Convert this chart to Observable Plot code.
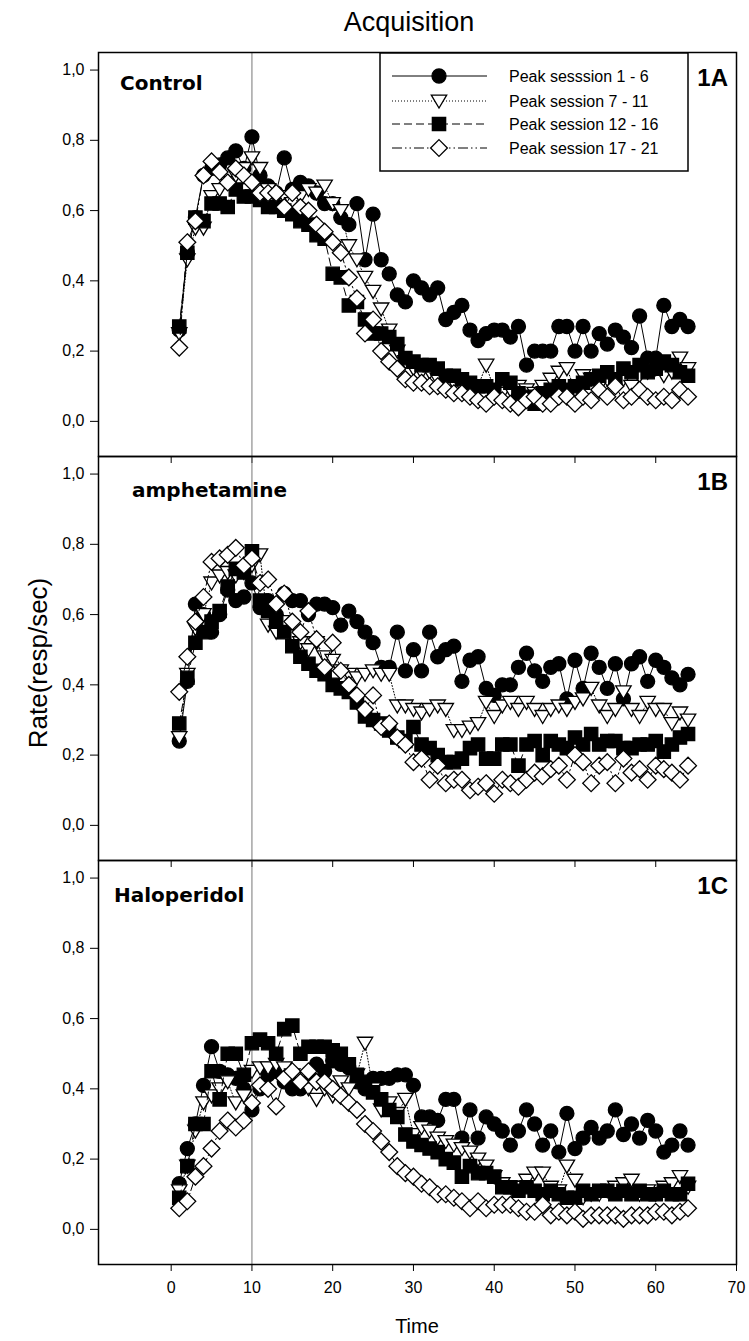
<!DOCTYPE html>
<html><head><meta charset="utf-8">
<script src="https://cdn.jsdelivr.net/npm/d3@7"></script>
<script src="https://cdn.jsdelivr.net/npm/@observablehq/plot@0.6"></script>
<style>
html,body{margin:0;padding:0;background:#fff;}
#fig{position:relative;width:749px;height:1341px;overflow:hidden;font-family:"Liberation Sans",Arial,sans-serif;background:#fff;}
#fig svg{position:absolute;left:0;}
</style></head><body><div id="fig"></div>
<script>
// ---------- data ----------
const time = [1,2,3,4,5,6,7,8,9,10,11,12,13,14,15,16,17,18,19,20,21,22,23,24,25,26,27,28,29,30,31,32,33,34,35,36,37,38,39,40,41,42,43,44,45,46,47,48,49,50,51,52,53,54,55,56,57,58,59,60,61,62,63,64];

const seriesNames = ["Peak sesssion 1 - 6","Peak session 7 - 11","Peak session 12 - 16","Peak session 17 - 21"];
const panelNames = ["Control","amphetamine","Haloperidol"];
const panelTags = ["1A","1B","1C"];
const xTicks = [0,10,20,30,40,50,60,70];
const yTicks = [0,0.2,0.4,0.6,0.8,1.0];
const refTime = 10;

// Control (1A)
const control1 = [0.26,0.48,0.58,0.70,0.72,0.73,0.75,0.77,0.72,0.81, 0.70,0.67,0.65,0.75,0.66,0.68,0.67,0.65,0.62,0.62, 0.58,0.56,0.62,0.46,0.59,0.46,0.42,0.36,0.34,0.40, 0.38,0.36,0.38,0.29,0.31,0.33,0.26,0.23,0.25,0.26, 0.26,0.24,0.27,0.16,0.20,0.20,0.20,0.27,0.27,0.20, 0.27,0.20,0.25,0.22,0.26,0.24,0.21,0.30,0.18,0.18, 0.33,0.27,0.29,0.27];
const control2 = [0.25,0.46,0.55,0.55,0.64,0.66,0.68,0.70,0.72,0.75, 0.72,0.66,0.64,0.64,0.62,0.64,0.66,0.65,0.67,0.62, 0.60,0.50,0.46,0.41,0.37,0.32,0.26,0.20,0.17,0.15, 0.14,0.14,0.12,0.12,0.11,0.10,0.10,0.10,0.16,0.09, 0.08,0.09,0.10,0.09,0.08,0.10,0.12,0.14,0.15,0.09, 0.13,0.12,0.10,0.12,0.11,0.12,0.10,0.13,0.14,0.15, 0.13,0.14,0.18,0.15];
const control3 = [0.27,0.48,0.58,0.57,0.62,0.62,0.61,0.66,0.64,0.64, 0.63,0.61,0.61,0.60,0.59,0.57,0.56,0.53,0.52,0.42, 0.41,0.33,0.34,0.29,0.25,0.25,0.24,0.22,0.18,0.17, 0.16,0.16,0.15,0.13,0.13,0.12,0.11,0.10,0.10,0.09, 0.12,0.11,0.08,0.07,0.05,0.08,0.09,0.10,0.09,0.10, 0.11,0.12,0.13,0.14,0.12,0.15,0.14,0.16,0.14,0.15, 0.17,0.16,0.14,0.13];
const control4 = [0.21,0.51,0.57,0.70,0.74,0.71,0.68,0.72,0.70,0.68, 0.65,0.65,0.65,0.61,0.65,0.61,0.60,0.56,0.54,0.51, 0.48,0.41,0.35,0.25,0.29,0.20,0.17,0.15,0.12,0.11, 0.11,0.10,0.10,0.09,0.08,0.08,0.07,0.06,0.05,0.07, 0.06,0.05,0.04,0.06,0.07,0.05,0.05,0.07,0.07,0.05, 0.07,0.06,0.09,0.07,0.10,0.06,0.07,0.09,0.07,0.06, 0.07,0.06,0.09,0.07];

// amphetamine (1B)
const amph1 = [0.24,0.41,0.63,0.60,0.55,0.60,0.67,0.64,0.65,0.69, 0.62,0.64,0.60,0.66,0.64,0.64,0.60,0.63,0.63,0.62, 0.57,0.61,0.58,0.55,0.52,0.45,0.45,0.55,0.44,0.50, 0.44,0.55,0.48,0.50,0.51,0.41,0.47,0.48,0.39,0.37, 0.40,0.40,0.45,0.49,0.44,0.41,0.45,0.46,0.36,0.47, 0.39,0.49,0.45,0.39,0.46,0.36,0.46,0.48,0.41,0.47, 0.45,0.42,0.40,0.43];
const amph2 = [0.25,0.43,0.56,0.60,0.69,0.71,0.72,0.71,0.72,0.74, 0.77,0.57,0.55,0.58,0.54,0.52,0.50,0.52,0.48,0.47, 0.44,0.43,0.42,0.43,0.44,0.43,0.43,0.34,0.34,0.33, 0.32,0.33,0.34,0.33,0.27,0.27,0.28,0.29,0.35,0.31, 0.34,0.35,0.33,0.35,0.33,0.31,0.33,0.34,0.33,0.35, 0.36,0.39,0.34,0.31,0.33,0.38,0.33,0.31,0.35,0.33, 0.33,0.29,0.32,0.30];
const amph3 = [0.29,0.42,0.52,0.55,0.58,0.61,0.68,0.73,0.72,0.78, 0.64,0.61,0.58,0.55,0.51,0.48,0.46,0.44,0.43,0.40, 0.39,0.38,0.35,0.31,0.30,0.29,0.27,0.25,0.24,0.28, 0.23,0.22,0.20,0.18,0.18,0.19,0.22,0.23,0.19,0.19, 0.23,0.23,0.17,0.23,0.24,0.20,0.24,0.23,0.22,0.25, 0.23,0.26,0.23,0.24,0.24,0.22,0.22,0.23,0.23,0.24, 0.21,0.23,0.25,0.26];
const amph4 = [0.38,0.48,0.58,0.65,0.75,0.76,0.77,0.79,0.74,0.76, 0.69,0.70,0.63,0.66,0.58,0.55,0.61,0.53,0.45,0.52, 0.44,0.40,0.37,0.33,0.37,0.28,0.29,0.25,0.23,0.18, 0.19,0.13,0.17,0.12,0.13,0.13,0.10,0.11,0.12,0.09, 0.13,0.12,0.11,0.13,0.15,0.14,0.16,0.17,0.13,0.20, 0.18,0.12,0.17,0.18,0.12,0.19,0.15,0.16,0.13,0.17, 0.16,0.15,0.13,0.17];

// Haloperidol (1C)
const halo1 = [0.13,0.23,0.30,0.41,0.52,0.45,0.44,0.43,0.40,0.34, 0.40,0.44,0.45,0.42,0.40,0.40,0.44,0.47,0.45,0.48, 0.47,0.46,0.42,0.40,0.43,0.43,0.43,0.44,0.44,0.41, 0.32,0.32,0.31,0.37,0.37,0.26,0.34,0.26,0.32,0.30, 0.28,0.24,0.28,0.34,0.30,0.24,0.28,0.22,0.33,0.23, 0.26,0.29,0.26,0.28,0.34,0.27,0.30,0.26,0.31,0.28, 0.22,0.24,0.28,0.24];
const halo2 = [0.11,0.18,0.28,0.36,0.38,0.40,0.42,0.36,0.38,0.45, 0.46,0.46,0.47,0.46,0.44,0.43,0.40,0.37,0.40,0.38, 0.42,0.40,0.44,0.53,0.40,0.34,0.36,0.33,0.37,0.27, 0.29,0.28,0.26,0.25,0.24,0.23,0.22,0.20,0.18,0.15, 0.13,0.12,0.12,0.14,0.16,0.16,0.12,0.11,0.18,0.14, 0.09,0.10,0.10,0.11,0.12,0.13,0.14,0.10,0.11,0.10, 0.12,0.13,0.15,0.12];
const halo3 = [0.09,0.18,0.30,0.30,0.45,0.37,0.50,0.50,0.44,0.53, 0.54,0.53,0.50,0.57,0.58,0.50,0.52,0.52,0.52,0.51, 0.50,0.47,0.44,0.42,0.39,0.37,0.34,0.32,0.27,0.25, 0.24,0.23,0.22,0.20,0.19,0.15,0.18,0.16,0.16,0.15, 0.12,0.12,0.11,0.12,0.11,0.10,0.11,0.10,0.09,0.09, 0.11,0.10,0.11,0.11,0.10,0.11,0.10,0.11,0.10,0.10, 0.11,0.10,0.10,0.13];
const halo4 = [0.06,0.08,0.15,0.18,0.23,0.28,0.31,0.29,0.31,0.36, 0.41,0.40,0.35,0.43,0.45,0.42,0.45,0.42,0.42,0.40, 0.38,0.36,0.34,0.30,0.28,0.25,0.22,0.18,0.16,0.15, 0.13,0.12,0.10,0.10,0.09,0.08,0.06,0.08,0.06,0.07, 0.07,0.07,0.06,0.05,0.05,0.07,0.04,0.05,0.04,0.05, 0.03,0.04,0.04,0.04,0.04,0.03,0.04,0.04,0.04,0.05, 0.05,0.04,0.05,0.06];

const panelSeries = [
  [control1, control2, control3, control4],
  [amph1, amph2, amph3, amph4],
  [halo1, halo2, halo3, halo4]
];

// ---------- symbols & styles ----------
const symCircle = {draw(c, size){const r=Math.sqrt(size/Math.PI); c.moveTo(r,0); c.arc(0,0,r,0,2*Math.PI); c.closePath();}};
const symTriDown = {draw(c, size){const r=Math.sqrt(size/Math.PI); c.moveTo(-r*1.1,-r*0.85); c.lineTo(r*1.1,-r*0.85); c.lineTo(0,r*1.0); c.closePath();}};
const symSquare = {draw(c, size){const r=Math.sqrt(size/Math.PI); const h=r*0.95; c.rect(-h,-h,2*h,2*h);}};
const symDiamond = {draw(c, size){const r=Math.sqrt(size/Math.PI); const h=r*1.2; c.moveTo(0,-h); c.lineTo(h,0); c.lineTo(0,h); c.lineTo(-h,0); c.closePath();}};
const styles = [
  {symbol: symCircle, fill: "black", dash: null},
  {symbol: symTriDown, fill: "white", dash: "1,2"},
  {symbol: symSquare, fill: "black", dash: "8,4"},
  {symbol: symDiamond, fill: "white", dash: "10,3,1.5,3,1.5,3"}
];
const R = 7;

// ---------- layout ----------
const W = 749, ML = 98, MR = 13, MT = 20, MB = 45, PH = 404;
const frameTops = [52, 456, 860];
const fig = document.getElementById("fig");
const commaFmt = d => d.toFixed(1).replace(".", ",");

panelSeries.forEach((series, i) => {
  const marks = [Plot.ruleX([refTime], {stroke: "#777", strokeWidth: 1})];
  series.forEach((vals, k) => {
    const data = time.map((t, j) => ({t, v: vals[j]}));
    const s = styles[k];
    marks.push(Plot.line(data, {x: "t", y: "v", stroke: "black", strokeWidth: 1, strokeDasharray: s.dash}));
    marks.push(Plot.dot(data, {x: "t", y: "v", symbol: s.symbol, r: R, fill: s.fill, stroke: "black", strokeWidth: 1.3}));
  });
  marks.push(Plot.frame({stroke: "black", strokeWidth: 1.5}));
  const svg = Plot.plot({
    width: W, height: MT + PH + MB,
    marginLeft: ML, marginRight: MR, marginTop: MT, marginBottom: MB,
    x: {domain: [-9, 70], ticks: xTicks, tickSize: 7, tickPadding: 10, label: null,
        tickFormat: i === 2 ? (d => String(d)) : (() => "")},
    y: {domain: [-0.1, 1.05], ticks: yTicks, tickSize: 8, tickPadding: 6, label: null, tickFormat: commaFmt},
    style: {background: "transparent", fontFamily: "'Liberation Sans', Arial, sans-serif", fontSize: "16px", color: "black"},
    marks
  });
  svg.style.top = (frameTops[i] - MT) + "px";
  fig.appendChild(svg);
});

// ---------- overlay texts & legend ----------
const ov = d3.select(fig).append("svg").attr("width", W).attr("height", 1341).style("top", "0px")
  .style("font-family", "'Liberation Sans', Arial, sans-serif");
ov.append("text").attr("x", 409).attr("y", 31).attr("text-anchor", "middle").attr("font-size", 27).text("Acquisition");
ov.append("text").attr("transform", "translate(47,663) rotate(-90)").attr("text-anchor", "middle").attr("font-size", 26).text("Rate(resp/sec)");
ov.append("text").attr("x", 417).attr("y", 1333).attr("text-anchor", "middle").attr("font-size", 20).text("Time");

const nameXY = [[120, 90], [132, 497], [114, 902]];
panelNames.forEach((n, i) => {
  ov.append("text").attr("x", nameXY[i][0]).attr("y", nameXY[i][1]).attr("font-family", "'DejaVu Sans', sans-serif")
    .attr("font-weight", "bold").attr("font-size", 20).text(n);
  ov.append("text").attr("x", 728).attr("y", frameTops[i] + 34).attr("text-anchor", "end")
    .attr("font-weight", "bold").attr("font-size", 24).text(panelTags[i]);
});

const lg = ov.append("g");
lg.append("rect").attr("x", 380).attr("y", 53).attr("width", 308).attr("height", 118)
  .attr("fill", "white").attr("stroke", "black").attr("stroke-width", 1.5);
const rowY = [76, 101, 124, 148];
seriesNames.forEach((n, k) => {
  const s = styles[k], y = rowY[k];
  lg.append("line").attr("x1", 392).attr("x2", 487).attr("y1", y).attr("y2", y)
    .attr("stroke", "black").attr("stroke-width", 1).attr("stroke-dasharray", s.dash);
  lg.append("path").attr("transform", `translate(439,${y})`).attr("d", d3.symbol(s.symbol, R * R * Math.PI)())
    .attr("fill", s.fill).attr("stroke", "black").attr("stroke-width", 1.3);
  lg.append("text").attr("x", 509).attr("y", y).attr("dy", "0.36em").attr("font-size", 16).text(n);
});
</script></body></html>
